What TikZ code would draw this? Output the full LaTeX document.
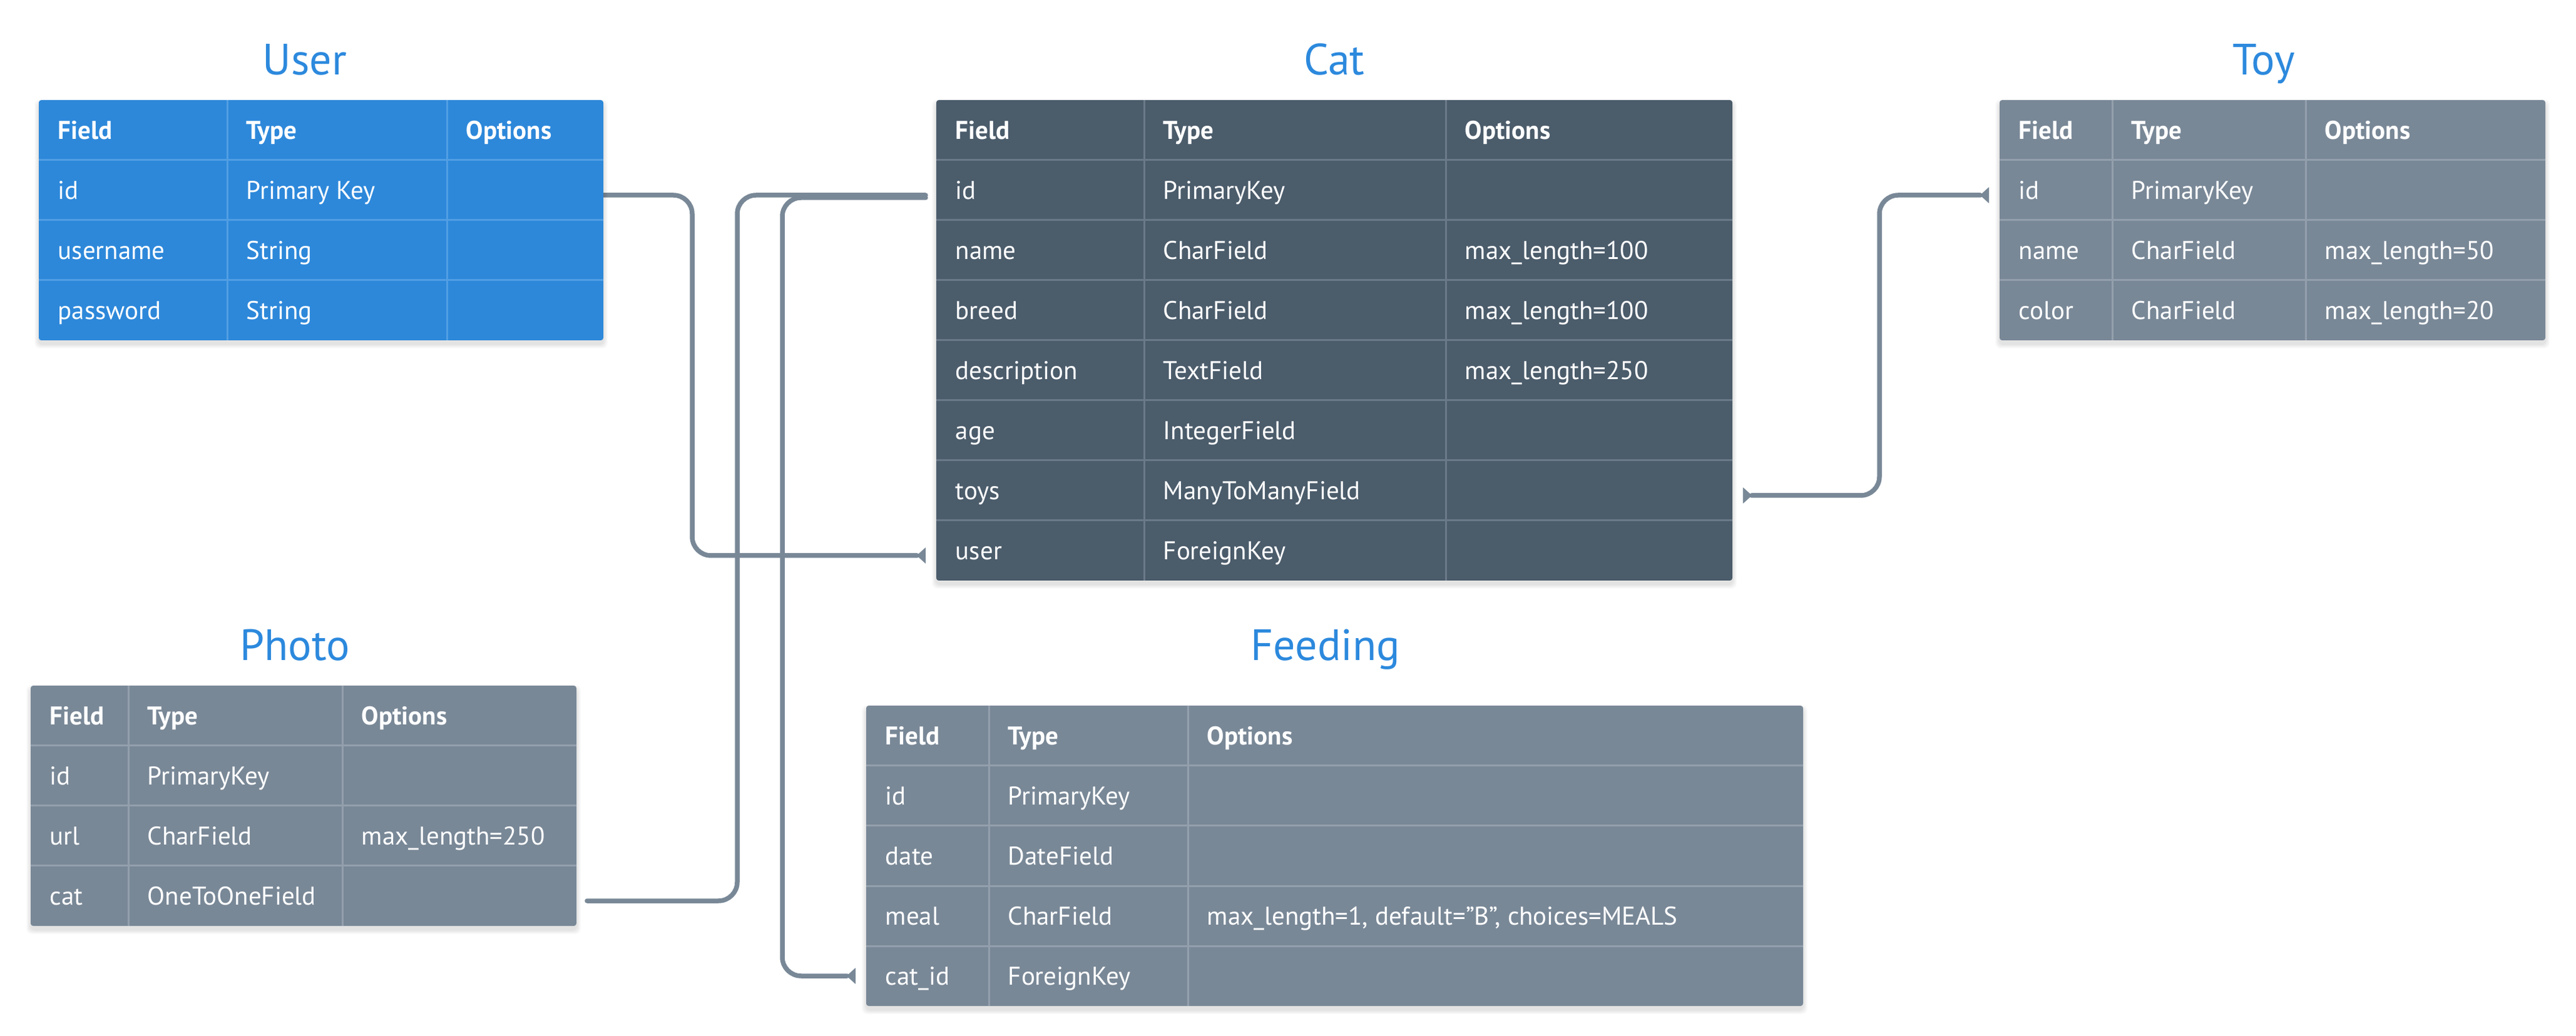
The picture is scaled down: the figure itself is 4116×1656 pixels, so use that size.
\documentclass[tikz,border=0pt]{standalone}
\usepackage{fontspec}
\setmainfont{PT Sans}
\usetikzlibrary{arrows.meta,calc}
\definecolor{userblue}{HTML}{2D88DA}
\definecolor{usersep}{HTML}{519EE3}
\definecolor{catfill}{HTML}{4B5C6B}
\definecolor{catsep}{HTML}{6B7A89}
\definecolor{greyfill}{HTML}{798897}
\definecolor{greysep}{HTML}{939FAC}
\definecolor{connc}{HTML}{798897}
\definecolor{titleblue}{HTML}{2C89DD}
\tikzset{
  tbl/.style={draw=none, inner sep=0pt, outer sep=0pt, rounded corners=1pt},
  sepl/.style={line width=0.75pt},
  cell/.style={anchor=base west, inner sep=0pt, text=white, font=\fontsize{10.25}{12}\selectfont},
  ttl/.style={anchor=base, inner sep=0pt, text=titleblue, font=\fontsize{17.5}{20}\selectfont},
  conn/.style={draw=connc, line width=1.875pt, line cap=round, rounded corners=7.5pt},
  erend/.style={-{Triangle[reversed,length=3.6pt,width=6.4pt,line width=0.2pt]}},
  erboth/.style={{Triangle[reversed,length=3.6pt,width=6.4pt,line width=0.2pt]}-{Triangle[reversed,length=3.6pt,width=6.4pt,line width=0.2pt]}},
}
% #1 name, #2 X, #3 Y, #4 W, #5 rows, #6 colA, #7 colB, #8 fill, #9 sep colour
\newcommand\erdtable[9]{%
  \foreach \k in {1,...,7}{\fill[black,opacity=0.016,rounded corners=2pt] (#2-\k,#3-\k+6) rectangle (#2+#4+\k,#3+96*#5+\k+6);}
  \node[tbl,fill=#8,minimum width=#4*0.25pt,minimum height=96*#5*0.25pt,anchor=north west] (#1) at (#2,#3) {};
  \foreach \r in {2,...,#5}{\draw[sepl,#9] (#2,#3+96*\r-96) -- (#2+#4,#3+96*\r-96);}
  \draw[sepl,#9] (#6,#3) -- (#6,#3+96*#5);
  \draw[sepl,#9] (#7,#3) -- (#7,#3+96*#5);
  \def\tN{#1}\def\tX{#2}\def\tY{#3}\def\tA{#6}\def\tB{#7}%
}
\newcommand\erow[4]{%
  \node[cell] (\tN-#1-f) at (\tX+30,\tY+96*#1+62.5) {#2};
  \node[cell] (\tN-#1-t) at (\tA+30,\tY+96*#1+62.5) {#3};
  \if\relax\detokenize{#4}\relax\else\node[cell] (\tN-#1-o) at (\tB+30,\tY+96*#1+62.5) {#4};\fi
}
\newcommand\ehead{\erow{0}{\textbf{Field}}{\textbf{Type}}{\textbf{Options}}}
\begin{document}
\begin{tikzpicture}[x=0.25pt,y=-0.25pt]
\fill[white] (0,0) rectangle (4116,1656);
\useasboundingbox (0,0) rectangle (4116,1656);

% titles
\node[ttl] (user-title) at (487,119.5) {User};
\node[ttl] (cat-title) at (2132,119.5) {Cat};
\node[ttl] (toy-title) at (3617,119.5) {Toy};
\node[ttl] (photo-title) at (471,1056) {Photo};
\node[ttl] (feeding-title) at (2118,1056) {Feeding};

% table frames (for anchors)
\coordinate (user-nw) at (62,160);
\coordinate (cat-nw) at (1496,160);
\coordinate (toy-nw) at (3195,160);
\coordinate (photo-nw) at (49,1096);
\coordinate (feed-nw) at (1384,1128);

% connector ports and channels
\coordinate (p-user-id) at (964,312);
\coordinate (p-cat-user) at (1479,888);
\coordinate (p-cat-id) at (1479,312);
\coordinate (p-cat-id2) at (1479,316);
\coordinate (p-photo-cat) at (938,1440);
\coordinate (p-feed-cat) at (1367,1560);
\coordinate (p-cat-toys) at (2785,792);
\coordinate (p-toy-id) at (3178,312);
\coordinate (ch1) at (1106,0);
\coordinate (ch2) at (1178,0);
\coordinate (ch3) at (1250,0);
\coordinate (ch4) at (3003,0);

\draw[conn,erend] (p-user-id) -- (ch1 |- p-user-id) -- (ch1 |- p-cat-user) -- (p-cat-user);
\draw[conn] (p-cat-id) -- (ch2 |- p-cat-id) -- (ch2 |- p-photo-cat) -- (p-photo-cat);
\draw[conn,erend] (p-cat-id2) -- (ch3 |- p-cat-id2) -- (ch3 |- p-feed-cat) -- (p-feed-cat);
\draw[conn,erboth] (p-cat-toys) -- (ch4 |- p-cat-toys) -- (ch4 |- p-toy-id) -- (p-toy-id);

% User
\erdtable{user}{62}{160}{902}{4}{363}{714}{userblue}{usersep}
\ehead
\erow{1}{id}{Primary Key}{}
\erow{2}{username}{String}{}
\erow{3}{password}{String}{}

% Cat
\erdtable{cat}{1496}{160}{1272}{8}{1828}{2310}{catfill}{catsep}
\ehead
\erow{1}{id}{PrimaryKey}{}
\erow{2}{name}{CharField}{max\_length=100}
\erow{3}{breed}{CharField}{max\_length=100}
\erow{4}{description}{TextField}{max\_length=250}
\erow{5}{age}{IntegerField}{}
\erow{6}{toys}{ManyToManyField}{}
\erow{7}{user}{ForeignKey}{}

% Toy
\erdtable{toy}{3195}{160}{872}{4}{3375}{3684}{greyfill}{greysep}
\ehead
\erow{1}{id}{PrimaryKey}{}
\erow{2}{name}{CharField}{max\_length=50}
\erow{3}{color}{CharField}{max\_length=20}

% Photo
\erdtable{photo}{49}{1096}{872}{4}{205}{547}{greyfill}{greysep}
\ehead
\erow{1}{id}{PrimaryKey}{}
\erow{2}{url}{CharField}{max\_length=250}
\erow{3}{cat}{OneToOneField}{}

% Feeding
\erdtable{feeding}{1384}{1128}{1497}{5}{1580}{1898}{greyfill}{greysep}
\ehead
\erow{1}{id}{PrimaryKey}{}
\erow{2}{date}{DateField}{}
\erow{3}{meal}{CharField}{max\_length=1, default="B", choices=MEALS}
\erow{4}{cat\_id}{ForeignKey}{}
\end{tikzpicture}
\end{document}
